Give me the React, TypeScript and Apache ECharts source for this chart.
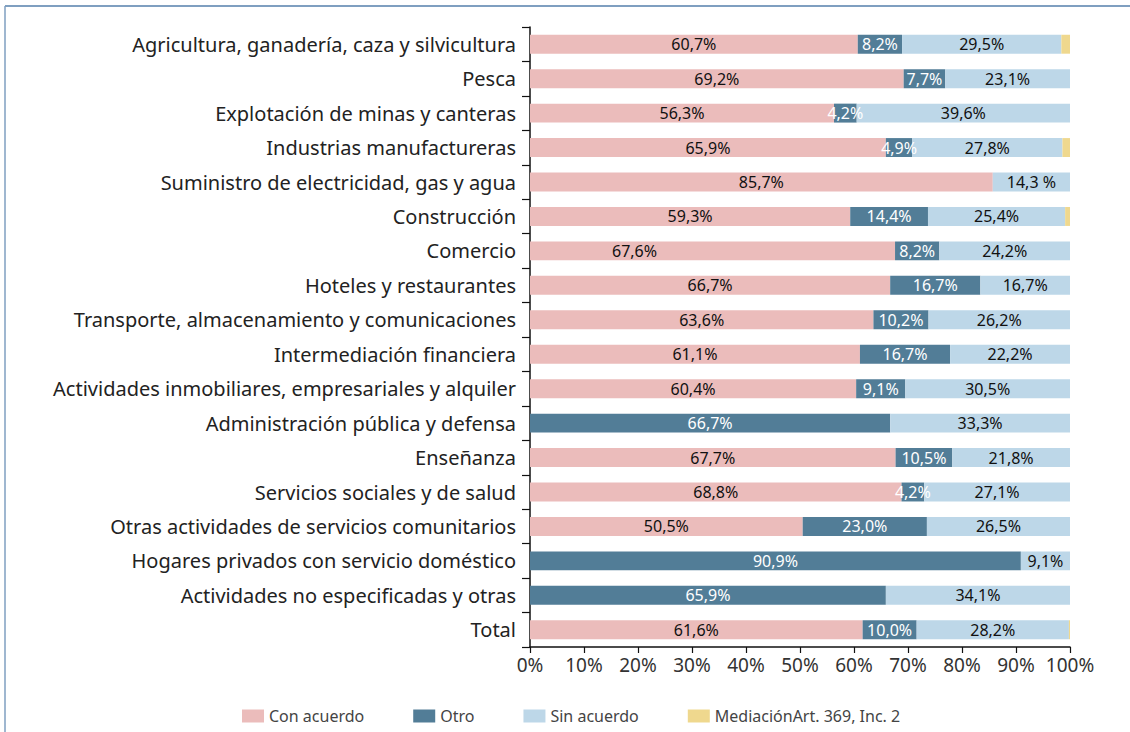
import React, { useEffect, useRef } from "react";
import * as echarts from "echarts";

const categories = [
  "Agricultura, ganadería, caza y silvicultura",
  "Pesca",
  "Explotación de minas y canteras",
  "Industrias manufactureras",
  "Suministro de electricidad, gas y agua",
  "Construcción",
  "Comercio",
  "Hoteles y restaurantes",
  "Transporte, almacenamiento y comunicaciones",
  "Intermediación financiera",
  "Actividades inmobiliares, empresariales y alquiler",
  "Administración pública y defensa",
  "Enseñanza",
  "Servicios sociales y de salud",
  "Otras actividades de servicios comunitarios",
  "Hogares privados con servicio doméstico",
  "Actividades no especificadas y otras",
  "Total",
];

const conAcuerdo = [60.7, 69.2, 56.3, 65.9, 85.7, 59.3, 67.6, 66.7, 63.6, 61.1, 60.4, 0, 67.7, 68.8, 50.5, 0, 0, 61.6];
const otro = [8.2, 7.7, 4.2, 4.9, 0, 14.4, 8.2, 16.7, 10.2, 16.7, 9.1, 66.7, 10.5, 4.2, 23.0, 90.9, 65.9, 10.0];
const sinAcuerdo = [29.5, 23.1, 39.6, 27.8, 14.3, 25.4, 24.2, 16.7, 26.2, 22.2, 30.5, 33.3, 21.8, 27.1, 26.5, 9.1, 34.1, 28.2];
const mediacion = [1.6, 0, 0, 1.4, 0, 0.9, 0, 0, 0, 0, 0, 0, 0, 0, 0, 0, 0, 0.2];

const seriesNames = ["Con acuerdo", "Otro", "Sin acuerdo", "MediaciónArt. 369, Inc. 2"];
const xTicks = ["0%", "10%", "20%", "30%", "40%", "50%", "60%", "70%", "80%", "90%", "100%"];

const FONT = "'Noto Sans', sans-serif";

const fmt = (v: number) => (v ? v.toFixed(1).replace(".", ",") + "%" : "");

export default function App() {
  const ref = useRef<HTMLDivElement>(null);

  useEffect(() => {
    if (!ref.current) return;
    const chart = echarts.init(ref.current, undefined, { renderer: "svg" });

    const comercioIdx = categories.indexOf("Comercio");
    const suministroIdx = categories.indexOf("Suministro de electricidad, gas y agua");

    const colors = ["#ebbcbb", "#527d97", "#bdd7e8", "#efd88e"];
    const labelColors = ["#111", "#fff", "#111", "#111"];
    const datasets = [conAcuerdo, otro, sinAcuerdo, mediacion];

    chart.setOption({
      animation: false,
      textStyle: { fontFamily: FONT },
      graphic: [
        {
          type: "line",
          shape: { x1: 5, y1: 6, x2: 1130, y2: 6 },
          style: { stroke: "#7f9fc0", lineWidth: 2 },
        },
        {
          type: "line",
          shape: { x1: 5, y1: 6, x2: 5, y2: 732 },
          style: { stroke: "#7f9fc0", lineWidth: 1.5 },
        },
      ],
      legend: {
        left: 237,
        top: 703,
        itemWidth: 22,
        itemHeight: 13,
        itemGap: 49,
        icon: "rect",
        textStyle: { fontFamily: FONT, fontSize: 16, color: "#444" },
        data: seriesNames,
      },
      grid: { left: 530, right: 60, top: 27, bottom: 85, containLabel: false },
      xAxis: {
        type: "value",
        min: 0,
        max: 100,
        interval: 10,
        axisLine: { show: true, lineStyle: { color: "#111", width: 1.5 } },
        axisTick: { show: true, length: 6, lineStyle: { color: "#111", width: 1.2 } },
        splitLine: { show: false },
        axisLabel: {
          fontFamily: FONT,
          fontSize: 19,
          color: "#333",
          margin: 8,
          formatter: (v: number) => xTicks[Math.round(v / 10)],
        },
      },
      yAxis: {
        type: "category",
        inverse: true,
        data: categories,
        axisLine: { show: true, lineStyle: { color: "#111", width: 1.5 } },
        axisTick: { show: true, length: 8, lineStyle: { color: "#111", width: 1.2 } },
        axisLabel: { fontFamily: FONT, fontSize: 20, color: "#222", margin: 14 },
      },
      series: datasets.map((arr, s) => ({
        name: seriesNames[s],
        type: "bar",
        stack: "total",
        barCategoryGap: "45%",
        itemStyle: { color: colors[s] },
        label: {
          show: s < 3,
          position: "inside",
          fontFamily: FONT,
          fontSize: 16,
          color: labelColors[s],
          formatter: (p: any) =>
            s === 2 && p.dataIndex === suministroIdx ? "14,3 %" : fmt(p.value),
        },
        labelLayout: (p: any) =>
          s === 0 && p.dataIndex === comercioIdx ? { dx: -78, hideOverlap: false } : { hideOverlap: false },
        data: arr,
      })),
    });

    return () => chart.dispose();
  }, []);

  return (
    <div
      ref={ref}
      style={{ position: "fixed", left: 0, top: 0, width: 1130, height: 732, background: "#fff" }}
    />
  );
}
